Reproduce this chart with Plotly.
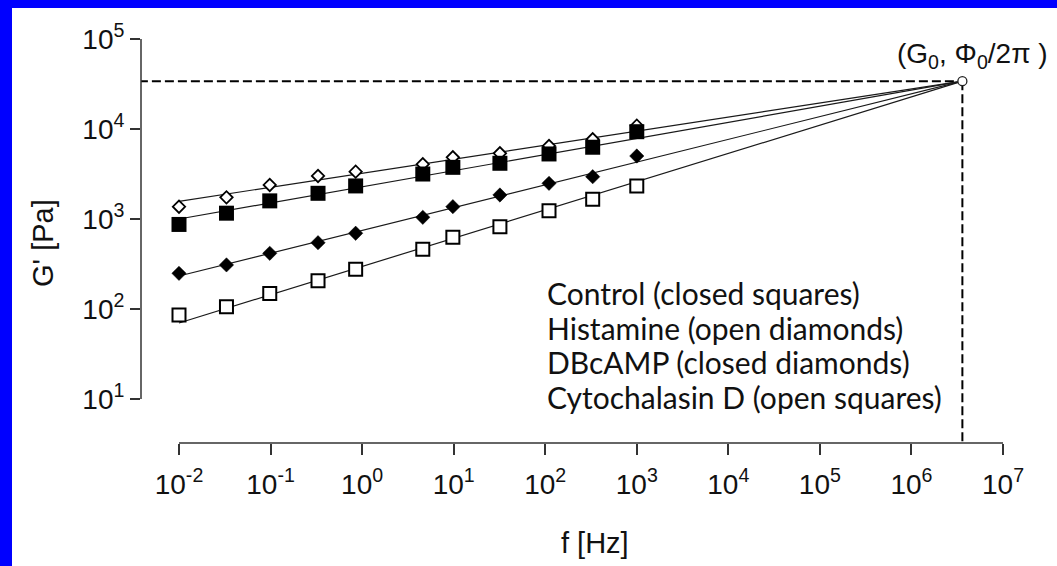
import plotly.graph_objects as go

# ---------------- data ----------------
freq = [0.01, 0.033, 0.098, 0.33, 0.85, 4.6, 9.8, 32, 110, 330, 1000]          # f [Hz]
control = [870, 1160, 1590, 1930, 2330, 3160, 3750, 4160, 5280, 6270, 9330]     # closed squares
histamine = [1370, 1740, 2390, 3010, 3360, 4060, 4850, 5370, 6480, 7690, 10900]  # open diamonds
dbcamp = [249, 309, 416, 545, 694, 1044, 1371, 1848, 2490, 2950, 5010]          # closed diamonds
cytod = [86, 106, 149, 206, 276, 461, 627, 821, 1236, 1655, 2330]               # open squares

# power-law exponents of the fitted lines, all passing through (F0, G0)
exp_control = 0.179
exp_histamine = 0.156
exp_dbcamp = 0.253
exp_cytod = 0.314
F0 = 3.6e6      # Hz
G0 = 3.4e4      # Pa

x_tickvals = [1e-2, 1e-1, 1e0, 1e1, 1e2, 1e3, 1e4, 1e5, 1e6, 1e7]
x_ticktext = ["10<sup>-2</sup>", "10<sup>-1</sup>", "10<sup>0</sup>", "10<sup>1</sup>",
              "10<sup>2</sup>", "10<sup>3</sup>", "10<sup>4</sup>", "10<sup>5</sup>",
              "10<sup>6</sup>", "10<sup>7</sup>"]
y_tickvals = [1e1, 1e2, 1e3, 1e4, 1e5]
y_ticktext = ["10<sup>1</sup>", "10<sup>2</sup>", "10<sup>3</sup>", "10<sup>4</sup>", "10<sup>5</sup>"]

legend_lines = ["Control (closed squares)", "Histamine (open diamonds)",
                "DBcAMP (closed diamonds)", "Cytochalasin D (open squares)"]

# ---------------- figure ----------------
AX = "#333333"
FONT = "Liberation Sans, Arial, sans-serif"

fig = go.Figure()

series = [
    (histamine, exp_histamine, "diamond", "white", 9.5, 1.8),
    (control, exp_control, "square", "black", 15, 0),
    (dbcamp, exp_dbcamp, "diamond", "black", 11, 0.5),
    (cytod, exp_cytod, "square", "white", 13, 2),
]

# fitted lines first
for vals, b, sym, fill, size, lw in series:
    fmin = freq[0]
    fig.add_trace(go.Scatter(
        x=[fmin, F0], y=[G0 * (fmin / F0) ** b, G0], mode="lines",
        line=dict(color="#1a1a1a", width=1.2), showlegend=False, hoverinfo="skip"))

# markers
for vals, b, sym, fill, size, lw in series:
    fig.add_trace(go.Scatter(
        x=freq, y=vals, mode="markers", showlegend=False, cliponaxis=False,
        marker=dict(symbol=sym, size=size, color=fill,
                    line=dict(color="black", width=lw))))

# pivot point (G0, Phi0/2pi)
fig.add_trace(go.Scatter(
    x=[F0], y=[G0], mode="markers", showlegend=False, cliponaxis=False,
    marker=dict(symbol="circle", size=9, color="white", line=dict(color="#222222", width=1.3))))

shapes = [
    # blue frame strips
    dict(type="rect", xref="paper", yref="paper", x0=-0.2, x1=(12 - 141) / 862,
         y0=-0.5, y1=1.2, fillcolor="#0000FF", line=dict(width=0), layer="above"),
    dict(type="rect", xref="paper", yref="paper", x0=-0.2, x1=1.2,
         y0=(443 - 8) / 404, y1=1.2, fillcolor="#0000FF", line=dict(width=0), layer="above"),
    # axis lines
    dict(type="line", xref="paper", yref="y", x0=0, x1=0, y0=y_tickvals[0], y1=y_tickvals[-1],
         line=dict(color=AX, width=1.5)),
    dict(type="line", xref="x", yref="paper", x0=x_tickvals[0], x1=x_tickvals[-1], y0=0, y1=0,
         line=dict(color=AX, width=1.5)),
    # dashed guide lines
    dict(type="line", xref="x", yref="y", x0=1e-4, x1=F0, y0=G0, y1=G0,
         line=dict(color="black", width=2, dash="9px,4px"), layer="below"),
    dict(type="line", xref="x", yref="y", x0=F0, x1=F0, y0=G0, y1=1,
         line=dict(color="black", width=2, dash="9px,4px"), layer="below"),
]

annotations = [
    dict(text="(G<sub>0</sub>, Φ<sub>0</sub>/2π )", xref="paper", yref="paper",
         x=(972 - 141) / 862, y=(443 - 55) / 404, xanchor="center", yanchor="middle",
         showarrow=False, font=dict(family=FONT, size=28, color="#111111")),
    dict(text="f [Hz]", xref="paper", yref="paper", x=(595 - 141) / 862, y=(443 - 543) / 404,
         xanchor="center", yanchor="middle", showarrow=False,
         font=dict(family=FONT, size=29, color="#111111")),
    dict(text="G' [Pa]", xref="paper", yref="paper", x=(43 - 141) / 862, y=(443 - 243) / 404,
         xanchor="center", yanchor="middle", textangle=-90, showarrow=False,
         font=dict(family=FONT, size=29, color="#111111")),
]
for i, line in enumerate(legend_lines):
    annotations.append(dict(
        text=line, xref="paper", yref="paper", x=(545 - 141) / 862,
        y=(443 - (293 + 34.6 * i)) / 404, xanchor="left", yanchor="middle",
        showarrow=False, font=dict(family="Lato, sans-serif", size=30, color="#111111")))

fig.update_layout(
    width=1057, height=566, autosize=False,
    margin=dict(l=141, r=54, t=39, b=123, pad=0),
    paper_bgcolor="white", plot_bgcolor="white",
    shapes=shapes, annotations=annotations, showlegend=False,
    xaxis=dict(type="log", range=[-2.415, 7], showgrid=False, zeroline=False, showline=False,
               tickmode="array", tickvals=x_tickvals, ticktext=x_ticktext,
               ticks="outside", ticklen=11, tickwidth=1.5, tickcolor=AX, ticklabelstandoff=5,
               tickfont=dict(family=FONT, size=28, color="#111111")),
    yaxis=dict(type="log", range=[0.511, 5], showgrid=False, zeroline=False, showline=False,
               tickmode="array", tickvals=y_tickvals, ticktext=y_ticktext,
               ticks="outside", ticklen=10, tickwidth=1.5, tickcolor=AX,
               tickfont=dict(family=FONT, size=28, color="#111111")),
)

fig.write_html("out.html")
